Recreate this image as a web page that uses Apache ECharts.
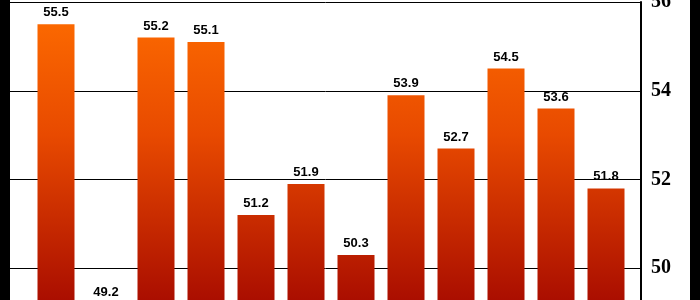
<!DOCTYPE html>
<html>
<head>
<meta charset="utf-8">
<script src="https://cdn.jsdelivr.net/npm/echarts@6/dist/echarts.min.js"></script>
<style>
html,body{margin:0;padding:0;background:#fff;}
#c{width:700px;height:300px;}
</style>
</head>
<body>
<div id="c"></div>
<script>
const categories = ['1','2','3','4','5','6','7','8','9','10','11','12'];
const values = [55.5, 49.2, 55.2, 55.1, 51.2, 51.9, 50.3, 53.9, 52.7, 54.5, 53.6, 51.8];
const yTicks = [48, 50, 52, 54, 56];

const chart = echarts.init(document.getElementById('c'), null, {renderer: 'canvas'});
const barGradient = {
  type: 'linear', x: 0, y: 0, x2: 0, y2: 300, global: true,
  colorStops: [
    {offset: 0, color: '#ff6e00'},
    {offset: 0.45, color: '#e84a00'},
    {offset: 1, color: '#aa0e00'}
  ]
};
chart.setOption({
  animation: false,
  backgroundColor: '#ffffff',
  grid: [
    {left: 10, width: 631, top: 2, height: 355, outerBoundsMode: 'none', containLabel: false},
    {left: 31, width: 600, top: 2, height: 355, outerBoundsMode: 'none', containLabel: false}
  ],
  xAxis: [
    {gridIndex: 0, type: 'value', min: 0, max: 1, show: false},
    {gridIndex: 1, type: 'category', data: categories, show: false}
  ],
  yAxis: [
    {
      gridIndex: 0, type: 'value', position: 'right',
      min: yTicks[0], max: yTicks[yTicks.length - 1], interval: 2,
      axisLine: {show: true, onZero: false, lineStyle: {color: '#000', width: 2}},
      axisTick: {show: false},
      splitLine: {show: true, lineStyle: {color: '#000', width: 1}},
      axisLabel: {margin: 10, color: '#000', fontFamily: 'Liberation Serif', fontWeight: 'bold', fontSize: 20}
    },
    {
      gridIndex: 1, type: 'value',
      min: yTicks[0], max: yTicks[yTicks.length - 1], interval: 2,
      show: false, splitLine: {show: false}
    }
  ],
  series: [{
    type: 'bar',
    xAxisIndex: 1, yAxisIndex: 1,
    data: values,
    barWidth: 37,
    itemStyle: {color: barGradient},
    label: {
      show: true, position: 'top', distance: 5,
      color: '#000', fontFamily: 'Liberation Sans', fontWeight: 'bold', fontSize: 13,
      formatter: p => p.value.toFixed(1)
    }
  }],
  graphic: [
    {type: 'rect', left: 0, top: 0, shape: {width: 10, height: 300}, style: {fill: '#000'}, z: 100},
    {type: 'rect', left: 690, top: 0, shape: {width: 10, height: 300}, style: {fill: '#000'}, z: 100}
  ]
});
</script>
</body>
</html>
